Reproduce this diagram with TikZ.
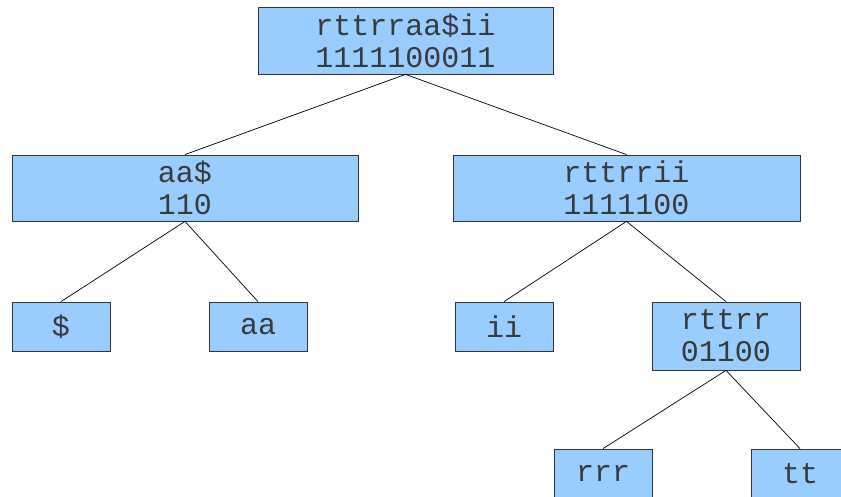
\documentclass[tikz,border=0pt]{standalone}
\usepackage{fontspec}
\newfontfamily\treemono{Liberation Mono}
\definecolor{boxfill}{HTML}{99CCFF}
\definecolor{boxline}{HTML}{333333}
\definecolor{boxtext}{HTML}{3A3A3A}
\begin{document}
\begin{tikzpicture}[x=1pt,y=-1pt,
  treebox/.style={draw=boxline,fill=boxfill,line width=0.8pt,inner sep=0pt,
    align=center,text=boxtext,font=\treemono\fontsize{30}{32}\selectfont},
  edge/.style={draw=black,line width=0.7pt}]
\useasboundingbox (0,0) rectangle (841,497);
% inner nodes
\node[treebox,minimum width=295,minimum height=67] (root) at (405.5,40.5) {rttrraa\$ii\\1111100011};
\node[treebox,minimum width=346,minimum height=66] (left) at (185,188) {aa\$\\110};
\node[treebox,minimum width=347,minimum height=66] (right) at (626.5,188) {rttrrii\\1111100};
\node[treebox,minimum width=148,minimum height=68] (rttrr) at (726,336) {rttrr\\01100};
% leaves
\node[treebox,minimum width=98,minimum height=49] (dollar) at (61,326.5) {\$};
\node[treebox,minimum width=98,minimum height=49] (aa) at (258,326.5) {aa};
\node[treebox,minimum width=98,minimum height=49] (ii) at (504,326.5) {ii};
\node[treebox,minimum width=98,minimum height=49] (rrr) at (603,473.5) {rrr};
\node[treebox,minimum width=98,minimum height=49] (tt) at (800,473.5) {tt};
% edges
\path[edge] (root.south) -- (left.north);
\path[edge] (root.south) -- (right.north);
\path[edge] (left.south) -- (dollar.north);
\path[edge] (left.south) -- (aa.north);
\path[edge] (right.south) -- (ii.north);
\path[edge] (right.south) -- (rttrr.north);
\path[edge] (rttrr.south) -- (rrr.north);
\path[edge] (rttrr.south) -- (tt.north);
\end{tikzpicture}
\end{document}
